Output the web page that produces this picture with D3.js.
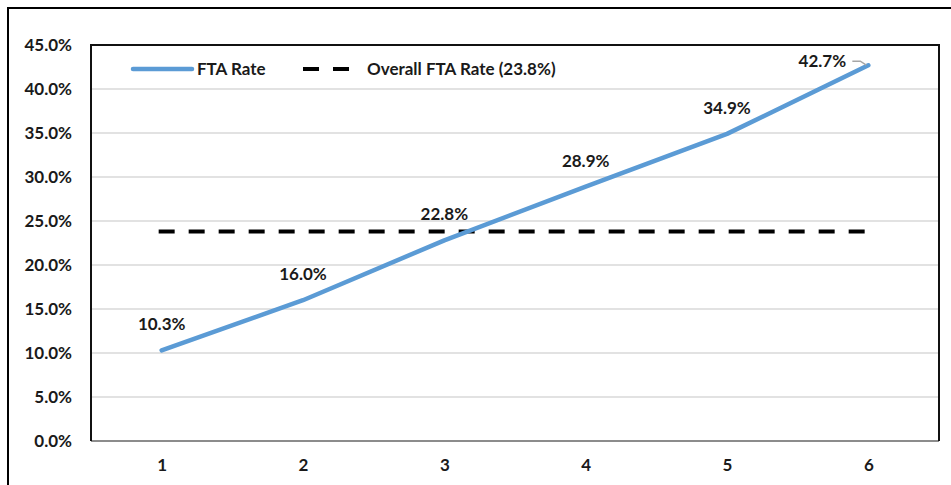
<!DOCTYPE html>
<html>
<head>
<meta charset="utf-8">
<script src="https://cdn.jsdelivr.net/npm/d3@7"></script>
<style>
  html, body { margin: 0; padding: 0; background: #fff; }
  svg { display: block; }
  text { font-family: Lato, "Open Sans", sans-serif; font-weight: 700; fill: #1a1a1a; }
</style>
</head>
<body>
<svg id="chart" width="951" height="485"></svg>
<script>
// Group labels along the x axis
const categories = ["1", "2", "3", "4", "5", "6"];
// FTA rate per group (percent)
const ftaRate = [10.3, 16.0, 22.8, 28.9, 34.9, 42.7];
// Overall FTA rate (percent)
const overallRate = 23.8;
// Y-axis tick values (percent)
const yTicks = [0, 5, 10, 15, 20, 25, 30, 35, 40, 45];
// Legend entries
const legendLabels = ["FTA Rate", "Overall FTA Rate (23.8%)"];

const svg = d3.select("#chart");
const W = 951, H = 485;
const plot = { left: 91, top: 45, right: 939, bottom: 441 };
const blue = "#5b9bd5";
const fontSize = "17px";

// Outer chart frame (extends past the right and bottom edges)
svg.append("rect")
  .attr("x", 8).attr("y", 8)
  .attr("width", W + 20).attr("height", H + 20)
  .attr("fill", "none").attr("stroke", "#000").attr("stroke-width", 2);

const x = d3.scalePoint().domain(categories).range([plot.left, plot.right]).padding(0.5);
const y = d3.scaleLinear().domain([0, 45]).range([plot.bottom, plot.top]);

// Horizontal gridlines
svg.append("g")
  .selectAll("line")
  .data(yTicks.filter(t => t > 0 && t < 45))
  .join("line")
  .attr("x1", plot.left).attr("x2", plot.right)
  .attr("y1", d => y(d)).attr("y2", d => y(d))
  .attr("stroke", "#d9d9d9").attr("stroke-width", 1.5);

// Y axis labels
const yAxis = d3.axisLeft(y).tickValues(yTicks).tickSize(0).tickPadding(19)
  .tickFormat(d => d.toFixed(1) + "%");
const gy = svg.append("g").attr("transform", `translate(${plot.left},0)`).call(yAxis);
gy.select(".domain").remove();
gy.selectAll("text").style("font-size", fontSize).attr("fill", "#1a1a1a")
  .style("font-family", "Lato, 'Open Sans', sans-serif").style("font-weight", 700);

// X axis labels
const xAxis = d3.axisBottom(x).tickSize(0).tickPadding(18);
const gx = svg.append("g").attr("transform", `translate(0,${plot.bottom})`).call(xAxis);
gx.select(".domain").remove();
gx.selectAll("text").style("font-size", fontSize).attr("fill", "#1a1a1a")
  .style("font-family", "Lato, 'Open Sans', sans-serif").style("font-weight", 700);

// Plot area frame: dark on top/left/right, gray baseline
svg.append("line")
  .attr("x1", plot.left).attr("x2", plot.right)
  .attr("y1", plot.bottom).attr("y2", plot.bottom)
  .attr("stroke", "#8c8c8c").attr("stroke-width", 2);
svg.append("path")
  .attr("d", `M${plot.left},${plot.bottom} V${plot.top} H${plot.right} V${plot.bottom}`)
  .attr("fill", "none").attr("stroke", "#111").attr("stroke-width", 2);

// Overall rate reference line
svg.append("line")
  .attr("x1", x(categories[0]) - 3).attr("x2", x(categories[categories.length - 1]))
  .attr("y1", y(overallRate)).attr("y2", y(overallRate))
  .attr("stroke", "#000").attr("stroke-width", 4)
  .attr("stroke-dasharray", "16 14");

// FTA rate line
const line = d3.line().x((d, i) => x(categories[i])).y(d => y(d));
svg.append("path")
  .datum(ftaRate)
  .attr("d", line)
  .attr("fill", "none").attr("stroke", blue)
  .attr("stroke-width", 4.5).attr("stroke-linecap", "round").attr("stroke-linejoin", "round");

// Data labels
const last = ftaRate.length - 1;
svg.append("g")
  .selectAll("text")
  .data(ftaRate)
  .join("text")
  .attr("x", (d, i) => i === last ? x(categories[i]) - 46 : x(categories[i]))
  .attr("y", (d, i) => i === last ? y(d) + 2 : y(d) - 20)
  .attr("text-anchor", "middle")
  .style("font-size", fontSize)
  .text(d => d.toFixed(1) + "%");

// Leader line for the final label
const lx = x(categories[last]), ly = y(ftaRate[last]);
svg.append("path")
  .attr("d", `M${lx - 16},${ly - 4} H${lx - 8} L${lx - 2},${ly}`)
  .attr("fill", "none").attr("stroke", "#a6a6a6").attr("stroke-width", 1.5);

// Legend
const lgY = 69;
const lg = svg.append("g");
lg.append("line").attr("x1", 133).attr("x2", 192).attr("y1", lgY).attr("y2", lgY)
  .attr("stroke", blue).attr("stroke-width", 4.5).attr("stroke-linecap", "round");
lg.append("text").attr("x", 197).attr("y", lgY + 6).style("font-size", fontSize).text(legendLabels[0]);
lg.append("line").attr("x1", 303).attr("x2", 350).attr("y1", lgY).attr("y2", lgY)
  .attr("stroke", "#000").attr("stroke-width", 4).attr("stroke-dasharray", "16 14");
lg.append("text").attr("x", 367).attr("y", lgY + 6).style("font-size", fontSize).text(legendLabels[1]);
</script>
</body>
</html>
